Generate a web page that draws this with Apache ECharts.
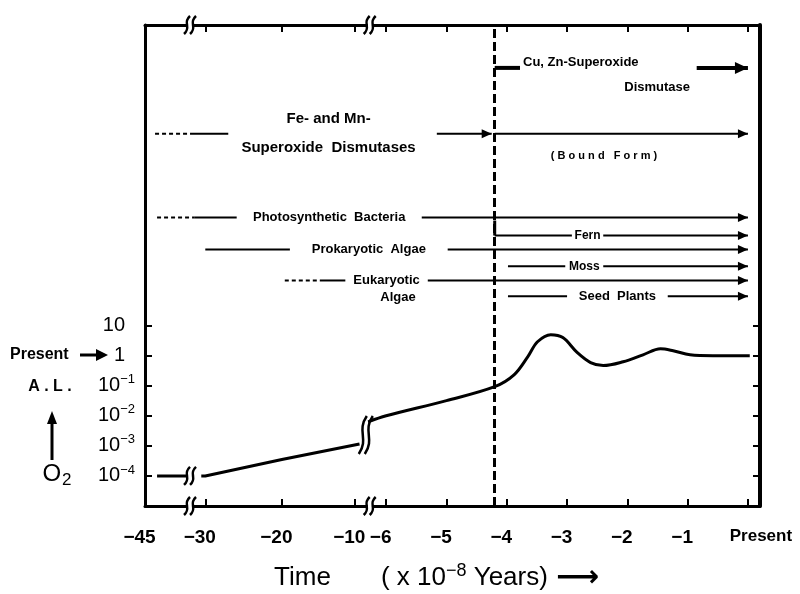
<!DOCTYPE html>
<html><head><meta charset="utf-8">
<script src="https://cdn.jsdelivr.net/npm/echarts@6/dist/echarts.min.js"></script>
<style>html,body{margin:0;padding:0;background:#fff}#c{width:800px;height:594px}</style>
</head><body><div id="c"></div>
<script>
// ---------- axis data ----------
const tickTimes  = [-45, -30, -20, -10, -6, -5, -4, -3, -2, -1, 0];          // x10^8 years
const tickLabels = ['−45','−30','−20','−10','−6','−5','−4','−3','−2','−1','Present'];
const tickSlots  = [0, 1, 2.27, 3.48, 4, 5, 6, 7, 8, 9, 10];                // broken-axis slots
const axisBreakTimes = [-33.8, -8.1];
const yTickValues = [1e-4, 1e-3, 1e-2, 1e-1, 1, 10];
const boundaryTime = -4.2;

// ---------- O2 curve (present atmospheric level) ----------
const o2TimesA  = [-42, -34];
const o2ValuesA = [1e-4, 1e-4];
const o2TimesB  = [-31, -30, -20, -9.4];
const o2ValuesB = [1e-4, 1e-4, 3.5e-4, 1.15e-3];
const o2TimesC  = [-8.3, -6, -5, -4.2, -3.88, -3.65, -3.49, -3.27, -3.07, -2.83, -2.61, -2.4, -2.07, -1.74, -1.45, -1.24, -0.96, -0.58, 0.03];
const o2ValuesC = [6.3e-3, 1e-2, 0.032, 0.093, 0.23, 0.93, 2.9, 5.0, 4.0, 1.26, 0.59, 0.47, 0.63, 1.07, 1.7, 1.46, 1.07, 1.0, 1.0];
const curveBreakTimes  = [-33.8, -8.6];
const curveBreakValues = [1e-4, 2.3e-3];

// ---------- timelines (x10^8 years) ----------
const rowNames       = ['', 'Fe- and Mn-\nSuperoxide  Dismutases', '', 'Photosynthetic  Bacteria', 'Fern', 'Prokaryotic  Algae', 'Moss', 'Eukaryotic', 'Seed  Plants'];
const rowLevels      = [2.72, 6.9, 6.9, 12.2, 13.35, 14.24, 15.3, 16.2, 17.2];
const rowDottedFrom  = [null, -42.5, null, -42, null, null, null, -19.6, null];
const rowSolidFrom   = [-4.2, -33.8, -4.2, -32.6, -4.2, -30, -3.98, -14.8, -3.98];
const rowGapFrom     = [-3.78, -27, null, -25.9, -2.92, -18.9, -3.03, -11.3, -3.0];
const rowGapTo       = [-0.85, -5.16, null, -5.41, -2.4, -4.98, -2.4, -5.31, -1.33];
const rowEnd         = [0, -4.25, 0, 0, 0, 0, 0, 0, 0];

const FONT = '"Liberation Sans", Arial, sans-serif';

function toSlot(t) {
  const n = tickTimes.length;
  for (let i = 0; i < n - 1; i++) {
    if (t <= tickTimes[i + 1] || i === n - 2) {
      const f = (t - tickTimes[i]) / (tickTimes[i + 1] - tickTimes[i]);
      return tickSlots[i] + f * (tickSlots[i + 1] - tickSlots[i]);
    }
  }
}
const pairs = (ts, vs) => ts.map((t, i) => [toSlot(t), vs[i]]);

const chart = echarts.init(document.getElementById('c'));

const lineStyle = {color: '#000', width: 3};
const xTickSlots = tickSlots.slice(1);

function xLabelFmt(v) {
  let idx = 0, best = 1e9;
  tickSlots.forEach((s, i) => { if (Math.abs(s - v) < best) { best = Math.abs(s - v); idx = i; } });
  if (idx === tickLabels.length - 1) return '{p|' + tickLabels[idx] + '}';
  return '{n|' + tickLabels[idx] + '}';
}
function yLabelFmt(v) {
  const e = Math.round(Math.log10(v));
  if (e === 0) return '{b|1}{g|}';
  if (e === 1) return '{b|10}{g|}';
  return '{b|10}{s|' + (e < 0 ? '−' : '') + Math.abs(e) + '}';
}

function sCurve(x, y, h, w) {
  return {type: 'bezierCurve', shape: {x1: x - w, y1: y + h / 2, x2: x + w, y2: y - h / 2,
    cpx1: x + w * 1.6, cpy1: y + h * 0.1, cpx2: x - w * 1.6, cpy2: y - h * 0.1},
    style: {stroke: '#000', lineWidth: 2.5, fill: null}};
}
function renderBreak(params, api) {
  const p = api.coord([api.value(0), api.value(1)]);
  const tall = api.value(2) === 1;
  const h = tall ? 38 : 18, w = tall ? 4 : 3;
  const kids = [];
  if (!tall) kids.push({type: 'rect', shape: {x: p[0] - 2, y: p[1] - 3, width: 5, height: 6}, style: {fill: '#fff'}});
  kids.push(sCurve(p[0] - 3, p[1], h, w));
  kids.push(sCurve(p[0] + 3, p[1], h, w));
  return {type: 'group', children: kids};
}
const breakData = [];
axisBreakTimes.forEach(t => { breakData.push([toSlot(t), 1e-5, 0]); breakData.push([toSlot(t), 1e11, 0]); });
curveBreakTimes.forEach((t, i) => breakData.push([toSlot(t), curveBreakValues[i], i === 1 ? 1 : 0]));

function renderRow(params, api) {
  const i = api.value(2);
  const lvl = rowLevels[i];
  const yy = api.coord([0, lvl])[1];
  const X = t => api.coord([toSlot(t), lvl])[0];
  const thick = i === 0;
  const lw = thick ? 4 : 2;
  const kids = [];
  const seg = (a, b, dash) => kids.push({type: 'line',
    shape: {x1: X(a), y1: yy, x2: X(b), y2: yy},
    style: {stroke: '#000', lineWidth: lw, lineDash: dash ? [4, 3] : null}});
  if (rowDottedFrom[i] != null) seg(rowDottedFrom[i], rowSolidFrom[i], true);
  if (rowGapFrom[i] != null) { seg(rowSolidFrom[i], rowGapFrom[i]); seg(rowGapTo[i], rowEnd[i]); }
  else seg(rowSolidFrom[i], rowEnd[i]);
  const xe = X(rowEnd[i]);
  const hl = thick ? 13 : 10, hw = thick ? 6 : 4.5;
  kids.push({type: 'polygon', shape: {points: [[xe, yy], [xe - hl, yy - hw], [xe - hl, yy + hw]]}, style: {fill: '#000'}});
  if (i === 4) kids.push({type: 'line', shape: {x1: X(rowSolidFrom[i]), y1: yy - 15, x2: X(rowSolidFrom[i]), y2: yy}, style: {stroke: '#000', lineWidth: 3}});
  if (rowNames[i]) {
    const big = i === 1;
    kids.push({type: 'text', x: (X(rowGapFrom[i]) + X(rowGapTo[i])) / 2 + (big ? -4 : 0), y: yy,
      style: {text: rowNames[i], font: 'bold ' + (big ? 15 : (rowNames[i].length < 6 ? 12 : 13)) + 'px ' + FONT,
        fill: '#000', align: 'center', verticalAlign: 'middle', lineHeight: big ? 29 : 14}});
  }
  return {type: 'group', children: kids};
}

const option = {
  animation: false,
  backgroundColor: '#fff',
  grid: {left: 145, right: 40, top: 25, bottom: 88, containLabel: false, outerBoundsMode: 'none'},
  xAxis: [
    {type: 'value', min: 0, max: 10.2, position: 'bottom',
     axisLine: {show: true, onZero: false, lineStyle: lineStyle},
     axisTick: {show: true, inside: true, length: 7, lineStyle: {color: '#000', width: 2}, customValues: xTickSlots},
     axisLabel: {show: true, margin: 22, customValues: tickSlots, formatter: xLabelFmt, color: '#000',
       rich: {n: {fontSize: 19, fontWeight: 'bold', fontFamily: FONT, color: '#000', padding: [0, 11, 0, 0]},
              p: {fontSize: 17, fontWeight: 'bold', fontFamily: FONT, color: '#000', padding: [0, 0, 0, 26]}}},
     splitLine: {show: false},
     name: '{t|Time}{w|}{t|( x 10}{s|−8}{t| Years)}{v|}{a|⟶}{z|}', nameLocation: 'middle', nameGap: 56,
     nameTextStyle: {color: '#000', rich: {
       t: {fontSize: 26, fontFamily: FONT, color: '#000'},
       w: {width: 50},
       v: {width: 8},
       z: {width: 32},
       s: {fontSize: 18, fontFamily: FONT, color: '#000', padding: [0, 0, 14, 0]},
       a: {fontSize: 30, fontFamily: '"DejaVu Sans"', fontWeight: 'bold', color: '#000'}}}},
    {type: 'value', min: 0, max: 10.2, position: 'top',
     axisLine: {show: true, onZero: false, lineStyle: lineStyle},
     axisTick: {show: true, inside: true, length: 7, lineStyle: {color: '#000', width: 2}, customValues: xTickSlots},
     axisLabel: {show: false}, splitLine: {show: false}}
  ],
  yAxis: [
    {type: 'log', logBase: 10, min: 1e-5, max: 1e11, position: 'left',
     axisLine: {show: true, onZero: false, lineStyle: lineStyle},
     axisTick: {show: true, inside: true, length: 7, lineStyle: {color: '#000', width: 2}, customValues: yTickValues},
     axisLabel: {show: true, margin: 10, customValues: yTickValues, formatter: yLabelFmt,
       rich: {b: {fontSize: 20, fontFamily: FONT, color: '#000'},
              s: {fontSize: 13, fontFamily: FONT, color: '#000', padding: [0, 0, 12, 0]},
              g: {width: 10}}},
     splitLine: {show: false}},
    {type: 'value', min: 0, max: 30.5, inverse: true, show: false},
    {type: 'log', logBase: 10, min: 1e-5, max: 1e11, position: 'right',
     axisLine: {show: true, onZero: false, lineStyle: {color: '#000', width: 4}},
     axisTick: {show: true, inside: true, length: 7, lineStyle: {color: '#000', width: 2}, customValues: yTickValues},
     axisLabel: {show: false}, splitLine: {show: false}}
  ],
  series: [
    {type: 'line', xAxisIndex: 0, yAxisIndex: 0, data: pairs(o2TimesA, o2ValuesA), symbol: 'none', lineStyle: lineStyle},
    {type: 'line', xAxisIndex: 0, yAxisIndex: 0, data: pairs(o2TimesB, o2ValuesB), symbol: 'none', lineStyle: lineStyle},
    {type: 'line', xAxisIndex: 0, yAxisIndex: 0, data: pairs(o2TimesC, o2ValuesC), symbol: 'none', smooth: 0.35, lineStyle: lineStyle,
     markLine: {silent: true, symbol: 'none', label: {show: false},
       lineStyle: {color: '#000', width: 3, type: [9, 4]}, data: [{xAxis: toSlot(boundaryTime)}]}},
    {type: 'custom', xAxisIndex: 0, yAxisIndex: 0, clip: false, data: breakData, renderItem: renderBreak, z: 10},
    {type: 'custom', xAxisIndex: 0, yAxisIndex: 1, clip: false,
     data: rowNames.map((_, i) => [toSlot(rowSolidFrom[i]), rowLevels[i], i]), renderItem: renderRow}
  ],
  graphic: [
    {type: 'text', x: 523, y: 62, style: {text: 'Cu, Zn-Superoxide', font: 'bold 13px ' + FONT, fill: '#000', verticalAlign: 'middle'}},
    {type: 'text', x: 690, y: 87, style: {text: 'Dismutase', font: 'bold 13px ' + FONT, fill: '#000', align: 'right', verticalAlign: 'middle'}},
    {type: 'text', x: 604, y: 156, style: {text: '( B o u n d   F o r m )', font: 'bold 11px ' + FONT, fill: '#000', align: 'center', verticalAlign: 'middle'}},
    {type: 'text', x: 398, y: 297, style: {text: 'Algae', font: 'bold 13px ' + FONT, fill: '#000', align: 'center', verticalAlign: 'middle'}},
    {type: 'text', x: 10, y: 355, style: {text: 'Present', font: 'bold 16px ' + FONT, fill: '#000', verticalAlign: 'middle'}},
    {type: 'line', shape: {x1: 80, y1: 355, x2: 100, y2: 355}, style: {stroke: '#000', lineWidth: 3}},
    {type: 'polygon', shape: {points: [[96, 349], [108, 355], [96, 361]]}, style: {fill: '#000'}},
    {type: 'text', x: 50, y: 387, style: {text: 'A . L .', font: 'bold 16px ' + FONT, fill: '#000', align: 'center', verticalAlign: 'middle'}},
    {type: 'line', shape: {x1: 52, y1: 460, x2: 52, y2: 420}, style: {stroke: '#000', lineWidth: 3}},
    {type: 'polygon', shape: {points: [[47, 424], [57, 424], [52, 411]]}, style: {fill: '#000'}},
    {type: 'text', x: 57, y: 474, style: {text: '{o|O}{u|2}', align: 'center', verticalAlign: 'middle',
      rich: {o: {fontSize: 24, fontFamily: FONT, fill: '#000', color: '#000'}, u: {fontSize: 17, fontFamily: FONT, color: '#000', fill: '#000', padding: [12, 0, 0, 1]}}}}
  ]
};
chart.setOption(option);
</script></body></html>
